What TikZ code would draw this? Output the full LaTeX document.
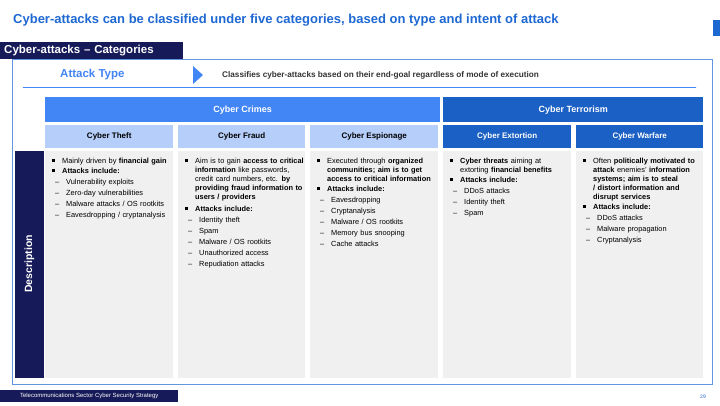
\documentclass[tikz,border=0pt]{standalone}
\usepackage{fontspec}
\setmainfont{Liberation Sans}
\usetikzlibrary{positioning}
\newcommand{\bul}[1]{\par\vspace{1pt}\hyphenpenalty=10000\relax\exhyphenpenalty=10000\relax\noindent\hangindent=10pt\hangafter=1\makebox[10pt][l]{\raisebox{1.2pt}{\rule{2.6pt}{2.6pt}}}#1\par}
\newcommand{\dsh}[1]{\par\vspace{2pt}\noindent\hangindent=14pt\hangafter=1\hspace*{3pt}\makebox[11pt][l]{--}#1\par}
\begin{document}
\begin{tikzpicture}
		[x=1pt,y=-1pt,line cap=round,
		%Styles
		box/.style={anchor=north west,inner sep=0pt,minimum height=#1},
		group head/.style={box=25pt,minimum width=#1,font=\bfseries\fontsize{9}{11}\selectfont},
		sub head/.style={box=23pt,minimum width=128pt,font=\bfseries\fontsize{8}{10}\selectfont},
		column/.style={box=227pt,minimum width=128pt,fill=colgray},
		column text/.style={anchor=north west,text width=119pt,align=left,inner sep=0pt,
			font=\fontsize{7.4}{9}\selectfont}
		]
		
		%Colors
		\definecolor{navy}{RGB}{22,26,88}
		\definecolor{titleblue}{RGB}{30,104,210}
		\definecolor{crimeblue}{RGB}{66,133,244}
		\definecolor{terrorblue}{RGB}{27,96,196}
		\definecolor{lightblue}{RGB}{182,206,250}
		\definecolor{colgray}{RGB}{240,240,240}
		
		\useasboundingbox (0,0) rectangle (720,405);
		
		%Title and header
		\node[anchor=west,inner sep=0pt,text=titleblue,font=\bfseries\fontsize{13}{15}\selectfont] (title) at (13,20)
			{Cyber-attacks can be classified under five categories, based on type and intent of attack};
		\fill[titleblue] (713,20) rectangle (720,36);
		\draw[titleblue!70,thick] (12,59) rectangle (712,384);
		\node[box=17pt,minimum width=183pt,fill=navy,text=white,font=\bfseries\fontsize{11.5}{13}\selectfont,
			anchor=north west,text width=175pt,align=left] (head) at (0,42) {Cyber-attacks -- Categories};
		
		%Attack type row
		\node[anchor=west,inner sep=0pt,text=crimeblue,font=\bfseries\fontsize{11.5}{13}\selectfont] (type) at (60,75) {Attack Type};
		\fill[crimeblue] (193,66) -- (203,75) -- (193,84) -- cycle;
		\node[anchor=west,inner sep=0pt,font=\bfseries\fontsize{8.2}{10}\selectfont,text=black!80] (typetext) at (222,75)
			{Classifies cyber-attacks based on their end-goal regardless of mode of execution};
		\draw[crimeblue] (23,87) -- (696,87);
		
		%Groups
		\node[group head=395pt,fill=crimeblue,text=white] (crimes) at (45,97) {Cyber Crimes};
		\node[group head=260pt,fill=terrorblue,text=white] (terror) at (443,97) {Cyber Terrorism};
		
		\node[sub head,fill=lightblue] (theft) at (45,125) {Cyber Theft};
		\node[sub head,fill=lightblue,minimum width=127pt] (fraud) at (178,125) {Cyber Fraud};
		\node[sub head,fill=lightblue] (esp) at (310,125) {Cyber Espionage};
		\node[sub head,fill=terrorblue,text=white] (ext) at (443,125) {Cyber Extortion};
		\node[sub head,fill=terrorblue,text=white,minimum width=127pt] (war) at (576,125) {Cyber Warfare};
		
		%Description bar
		\node[box=227pt,minimum width=29pt,fill=navy] (desc) at (15,151) {};
		\node[rotate=90,text=white,font=\bfseries\fontsize{10.5}{12}\selectfont] at (29.5,264) {Description};
		
		%Columns
		\node[column] (ctheft) at (45,151) {};
		\node[column,minimum width=127pt] (cfraud) at (178,151) {};
		\node[column] (cesp) at (310,151) {};
		\node[column] (cext) at (443,151) {};
		\node[column,minimum width=127pt] (cwar) at (576,151) {};
		
		\node[column text] at (52,153) {\bul{Mainly driven by \textbf{financial gain}}\bul{\textbf{Attacks include:}}%
			\dsh{Vulnerability exploits}\dsh{Zero-day vulnerabilities}\dsh{Malware attacks / OS rootkits}\dsh{Eavesdropping / cryptanalysis}};
		\node[column text] at (185,153) {\bul{Aim is to gain \textbf{access to critical information} like passwords, credit card numbers, etc. \textbf{by providing fraud information to users / providers}}\vspace{2pt}\bul{\textbf{Attacks include:}}%
			\dsh{Identity theft}\dsh{Spam}\dsh{Malware / OS rootkits}\dsh{Unauthorized access}\dsh{Repudiation attacks}};
		\node[column text] at (317,153) {\bul{Executed through \textbf{organized communities; aim is to get access to critical information}}\bul{\textbf{Attacks include:}}%
			\dsh{Eavesdropping}\dsh{Cryptanalysis}\dsh{Malware / OS rootkits}\dsh{Memory bus snooping}\dsh{Cache attacks}};
		\node[column text] at (450,153) {\bul{\textbf{Cyber threats} aiming at extorting \textbf{financial benefits}}\bul{\textbf{Attacks include:}}%
			\dsh{DDoS attacks}\dsh{Identity theft}\dsh{Spam}};
		\node[column text] at (583,153) {\bul{Often \textbf{politically motivated to attack} enemies' \textbf{information systems; aim is to steal / distort information and disrupt services}}\bul{\textbf{Attacks include:}}%
			\dsh{DDoS attacks}\dsh{Malware propagation}\dsh{Cryptanalysis}};
		
		%Footer
		\node[box=12pt,minimum width=178pt,fill=navy,text=white,font=\fontsize{6}{7}\selectfont,
			anchor=north west] (foot) at (0,390) {Telecommunications Sector Cyber Security Strategy};
		\node[text=titleblue,font=\fontsize{5}{6}\selectfont] (page) at (703,397) {29};
	\end{tikzpicture}
\end{document}
